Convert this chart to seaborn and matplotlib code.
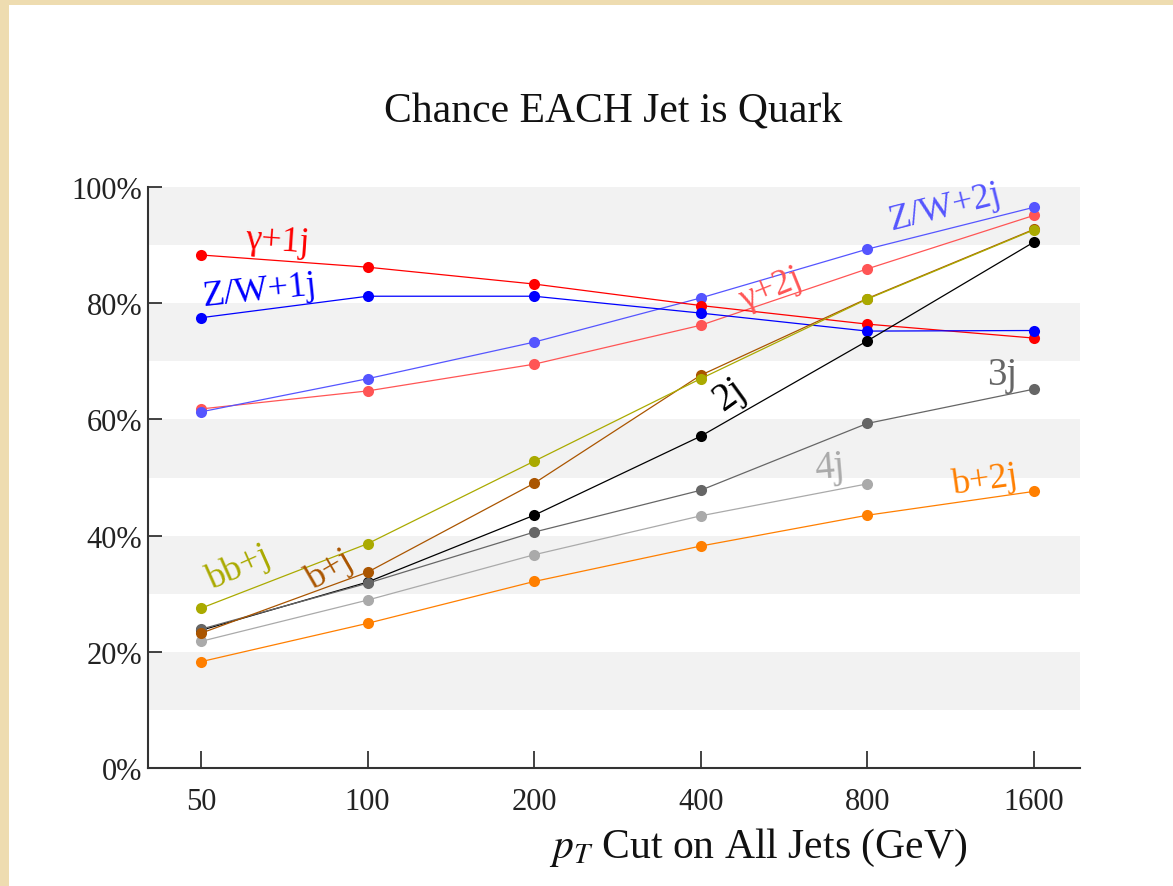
import numpy as np
import pandas as pd
import matplotlib
matplotlib.use("Agg")
import matplotlib.pyplot as plt
import seaborn as sns
from matplotlib.patches import Rectangle
from matplotlib.ticker import FixedLocator, NullFormatter

# ---------------- data ----------------
pt_cuts = [50, 100, 200, 400, 800, 1600]

gamma_1j = [88.3, 86.2, 83.3, 79.6, 76.4, 74.0]
zw_1j = [77.5, 81.2, 81.2, 78.3, 75.2, 75.3]
zw_2j = [61.3, 67.0, 73.3, 80.9, 89.3, 96.5]
gamma_2j = [61.8, 64.9, 69.5, 76.2, 85.9, 95.1]
bb_j = [27.5, 38.6, 52.8, 67.0, 80.7, 92.6]
b_j = [23.2, 33.7, 49.0, 67.6, 80.8, 92.7]
two_j = [23.7, 32.0, 43.5, 57.1, 73.5, 90.5]
three_j = [23.9, 31.8, 40.6, 47.8, 59.3, 65.2]
four_j = [21.8, 28.9, 36.7, 43.4, 48.9]
b_2j = [18.3, 24.9, 32.1, 38.2, 43.5, 47.6]

# listed in drawing order (later ones on top)
series_names = ["γ+2j", "Z/W+2j", "γ+1j", "Z/W+1j", "b+2j", "4j", "2j", "3j", "b+j", "bb+j"]
series_values = [gamma_2j, zw_2j, gamma_1j, zw_1j, b_2j, four_j, two_j, three_j, b_j, bb_j]
series_colors = ["#ff5555", "#5555ff", "#ff0000", "#0000ff", "#ff7f00", "#aaaaaa",
                 "#000000", "#666666", "#aa5500", "#aaaa00"]

y_ticks = [0, 20, 40, 60, 80, 100]
y_tick_labels = ["0%", "20%", "40%", "60%", "80%", "100%"]
x_tick_labels = ["50", "100", "200", "400", "800", "1600"]

rows = []
for name, vals in zip(series_names, series_values):
    for x, v in zip(pt_cuts, vals):
        rows.append({"pt": x, "frac": v, "series": name})
df = pd.DataFrame(rows)
palette = dict(zip(series_names, series_colors))

# ---------------- figure ----------------
sns.set_style("white")
plt.rcParams["font.family"] = ["Liberation Serif", "DejaVu Serif"]
plt.rcParams["mathtext.fontset"] = "stix"

fig = plt.figure(figsize=(11.73, 8.87), dpi=100, facecolor="#eedcb0")
fig.patches.append(Rectangle((9 / 1173, 0), 1 - 9 / 1173, 1 - 6 / 887,
                             transform=fig.transFigure, facecolor="white",
                             edgecolor="none", zorder=-10))

ax = fig.add_axes([148 / 1173, 1 - 769 / 887, (1080 - 148) / 1173, (769 - 188) / 887])
ax.set_zorder(2)
ax.set_facecolor("none")

# background bands
for lo in [10, 30, 50, 70, 90]:
    ax.axhspan(lo, lo + 10, color="#f2f2f2", zorder=0, lw=0)

sns.lineplot(data=df, x="pt", y="frac", hue="series", palette=palette,
             hue_order=series_names, marker="o", markersize=8, markeredgewidth=0,
             linewidth=0.9, legend=False, ax=ax, estimator=None, sort=True, zorder=3)

ax.set_xscale("log")
ax.set_xlim(40.1, 1940)
ax.set_ylim(0, 100)

ax.xaxis.set_major_locator(FixedLocator(pt_cuts))
ax.xaxis.set_minor_locator(FixedLocator([]))
ax.set_xticklabels(x_tick_labels)
ax.set_yticks(y_ticks)
ax.set_yticklabels(y_tick_labels)
ax.yaxis.set_minor_locator(FixedLocator([10, 30, 50, 70, 90]))
ax.yaxis.set_minor_formatter(NullFormatter())

ax.tick_params(axis="x", which="major", direction="in", length=12, width=1.2,
               labelsize=22, pad=14, colors="#222222")
ax.tick_params(axis="y", which="major", direction="in", length=10, width=1.2,
               labelsize=22, pad=4, colors="#222222")
ax.tick_params(axis="y", which="minor", direction="in", length=6, width=1.0)
ax.tick_params(axis="both", left=True, bottom=True)

for side in ["top", "right"]:
    ax.spines[side].set_visible(False)
for side in ["left", "bottom"]:
    ax.spines[side].set_color("#333333")
    ax.spines[side].set_linewidth(1.5)

ax.set_xlabel("")
ax.set_ylabel("")

fig.text(613 / 1173, 1 - 112 / 887, "Chance EACH Jet is Quark", ha="center", va="center",
         fontsize=30, color="#111111")
fig.text(758 / 1173, 1 - 848 / 887, r"$p_T$ Cut on All Jets (GeV)", ha="center", va="center",
         fontsize=30, color="#111111")

# series labels (pixel positions converted to figure fraction)
labels = [
    ("γ+1j", 277, 242, -4, "#ff0000"),
    ("Z/W+1j", 260, 292, 6, "#0000ff"),
    ("Z/W+2j", 945, 208, 14, "#5555ff"),
    ("γ+2j", 771, 290, 22, "#ff5555"),
    ("2j", 730, 395, 36, "#000000"),
    ("3j", 1002, 376, 0, "#666666"),
    ("4j", 830, 468, 5, "#aaaaaa"),
    ("b+2j", 985, 481, 8, "#ff7f00"),
    ("bb+j", 239, 568, 24, "#aaaa00"),
    ("b+j", 330, 570, 30, "#aa5500"),
]
for txt, px, py, rot, col in labels:
    size = 28 if txt in ("2j", "3j", "4j") else 26
    fig.text(px / 1173, 1 - py / 887, txt, ha="center", va="center", rotation=rot,
             fontsize=size, color=col, rotation_mode="anchor", zorder=5)

fig.savefig("out.png", dpi=100, facecolor=fig.get_facecolor())
